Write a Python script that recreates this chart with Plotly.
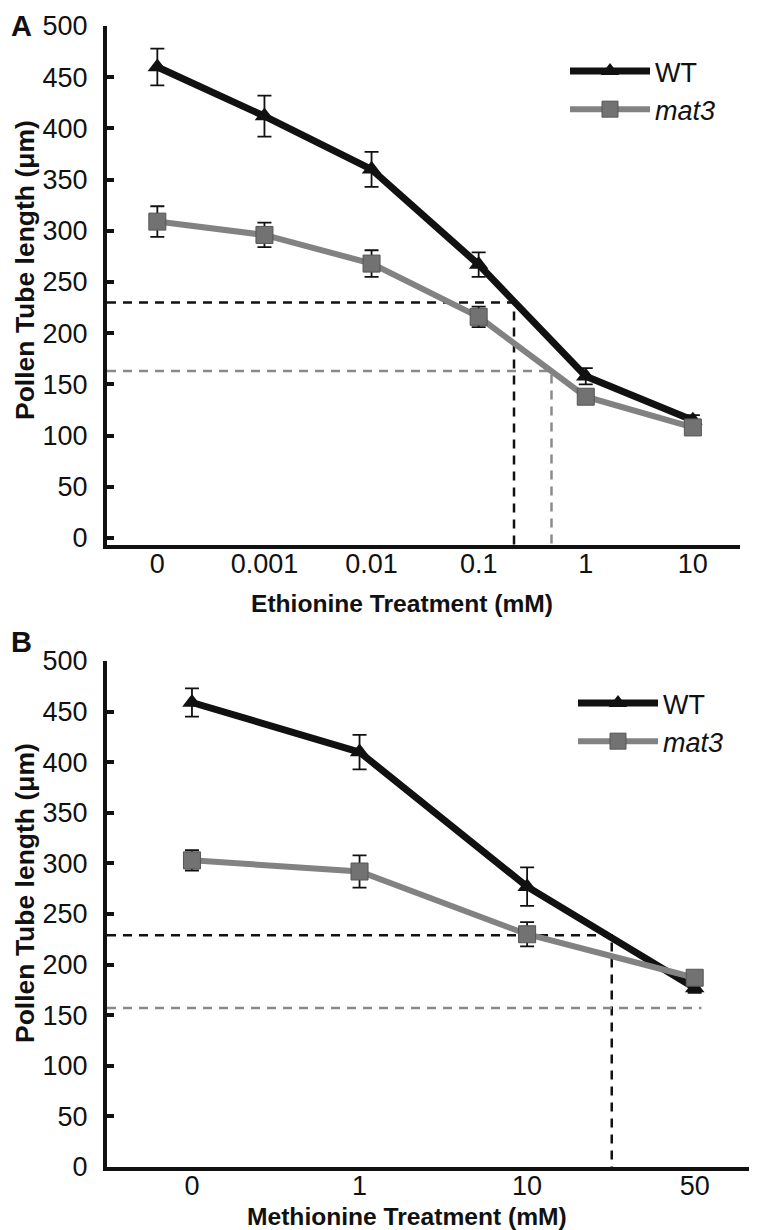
import plotly.graph_objects as go

# ---------------- data ----------------
eth_labels = ["0", "0.001", "0.01", "0.1", "1", "10"]
eth_wt = [460, 412, 360, 267, 158, 115]
eth_wt_err = [18, 20, 17, 12, 8, 5]
eth_mat3 = [309, 296, 268, 216, 138, 108]
eth_mat3_err = [15, 12, 13, 10, 6, 5]
# reference (dashed) lines: y level and x position (category units)
eth_ref_wt = (230, 3.33)
eth_ref_mat3 = (163, 3.68)

met_labels = ["0", "1", "10", "50"]
met_wt = [459, 410, 277, 177]
met_wt_err = [14, 17, 19, 5]
met_mat3 = [303, 292, 230, 187]
met_mat3_err = [10, 16, 12, 6]
met_ref_wt = (229, 2.505)
met_ref_mat3 = (157, 3.04)

FONT = "Liberation Sans, Arial, sans-serif"
BLACK = "#111111"
GRAY = "#828282"
MGRAY = "#727272"

# page has an 8px body margin; size the figure to fit the 757x1230 window
OFF = 8
W, H = 757 - OFF, 1230 - OFF

def px(xp):
    return (xp - OFF) / W

def py(yp):
    return 1 - (yp - OFF) / H

fig = go.Figure()

def add_panel(xa, ya, labels, wt, wt_err, m3, m3_err, ref_wt, ref_m3, xmin, ymin, legend, gray_vertical):
    xs = list(range(len(labels)))
    yr, xr = ref_wt
    fig.add_trace(go.Scatter(x=[xmin, xr, xr], y=[yr, yr, ymin], mode="lines",
                             line=dict(color=BLACK, width=2.5, dash="9px,7px"),
                             xaxis=xa, yaxis=ya, showlegend=False, hoverinfo="skip"))
    yr, xr = ref_m3
    if gray_vertical:
        gx, gy = [xmin, xr, xr], [yr, yr, ymin]
    else:
        gx, gy = [xmin, xr], [yr, yr]
    fig.add_trace(go.Scatter(x=gx, y=gy, mode="lines",
                             line=dict(color="#8a8a8a", width=2.5, dash="9px,7px"),
                             xaxis=xa, yaxis=ya, showlegend=False, hoverinfo="skip"))
    fig.add_trace(go.Scatter(x=xs, y=wt, mode="lines+markers", name="WT",
                             line=dict(color=BLACK, width=7),
                             marker=dict(symbol="triangle-up", size=17, color=BLACK),
                             error_y=dict(type="data", array=wt_err, color=BLACK, thickness=1.8, width=7),
                             xaxis=xa, yaxis=ya, legend=legend))
    fig.add_trace(go.Scatter(x=xs, y=m3, mode="lines+markers", name="<i>mat3</i>",
                             line=dict(color=GRAY, width=6),
                             marker=dict(symbol="square", size=17, color=MGRAY,
                                         line=dict(color="#555555", width=1)),
                             error_y=dict(type="data", array=m3_err, color=BLACK, thickness=1.8, width=7),
                             xaxis=xa, yaxis=ya, legend=legend))

add_panel("x", "y", eth_labels, eth_wt, eth_wt_err, eth_mat3, eth_mat3_err,
          eth_ref_wt, eth_ref_mat3, -0.47, -6.8, "legend", True)
add_panel("x2", "y2", met_labels, met_wt, met_wt_err, met_mat3, met_mat3_err,
          met_ref_wt, met_ref_mat3, -0.507, 0, "legend2", False)

tickfont = dict(family=FONT, size=27, color=BLACK)

def xaxis(labels, rng, domain, anchor):
    return dict(domain=domain, anchor=anchor, range=rng, automargin=False,
                tickmode="array", tickvals=list(range(len(labels))), ticktext=labels,
                showgrid=False, zeroline=False, showline=True, linecolor=BLACK, linewidth=4,
                ticks="", tickfont=tickfont, ticklabelstandoff=-8,
                ticklabeloverflow="allow")

def yaxis(rng, domain, anchor):
    return dict(domain=domain, anchor=anchor, range=rng, automargin=False,
                tickmode="array", tickvals=list(range(0, 501, 50)),
                showgrid=False, zeroline=False, showline=True, linecolor=BLACK, linewidth=4,
                ticks="inside", ticklen=7, tickwidth=4, tickcolor=BLACK,
                tickfont=tickfont, ticklabelstandoff=10, ticklabeloverflow="allow")

xtitlefont = dict(family=FONT, size=24.6, color=BLACK, weight="bold")
ytitlefont = dict(family=FONT, size=26.5, color=BLACK, weight="bold")
labfont = dict(family=FONT, size=29, color=BLACK, weight="bold")

def ann(text, xp, yp, font, angle=0, yanchor="middle"):
    return dict(text=text, x=px(xp), y=py(yp), xref="paper", yref="paper",
                xanchor="center", yanchor=yanchor, showarrow=False,
                textangle=angle, font=font)

legfont = dict(family=FONT, size=27, color=BLACK)
fig.update_layout(
    width=W, height=H,
    margin=dict(l=0, r=0, t=0, b=0),
    paper_bgcolor="white", plot_bgcolor="white",
    xaxis=xaxis(eth_labels, [-0.47, 5.44], [px(107), px(740)], "y"),
    yaxis=yaxis([-6.8, 500], [py(545), py(26)], "x"),
    xaxis2=xaxis(met_labels, [-0.507, 3.33], [px(107), px(750)], "y2"),
    yaxis2=yaxis([0, 500], [py(1167), py(661)], "x2"),
    legend=dict(x=px(565), y=py(47), xanchor="left", yanchor="top",
                font=legfont, itemwidth=80, bgcolor="rgba(0,0,0,0)", tracegroupgap=0),
    legend2=dict(x=px(573), y=py(679), xanchor="left", yanchor="top",
                 font=legfont, itemwidth=80, bgcolor="rgba(0,0,0,0)", tracegroupgap=0),
    showlegend=True,
    annotations=[
        ann("A", 21, 8, labfont, yanchor="top"),
        ann("B", 21, 642, labfont),
        ann("Ethionine Treatment (mM)", 402, 603, xtitlefont),
        ann("Methionine Treatment (mM)", 407, 1216, xtitlefont),
        ann("Pollen Tube length (μm)", 25, 270, ytitlefont, -90),
        ann("Pollen Tube length (μm)", 25, 893, ytitlefont, -90),
    ],
)

fig.write_html("out.html")
